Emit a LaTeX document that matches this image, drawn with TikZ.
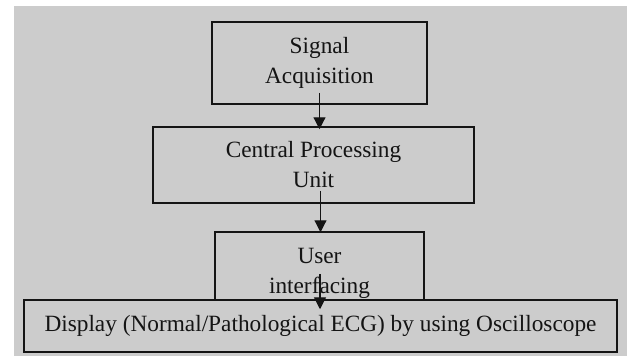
\documentclass[tikz,border=0pt]{standalone}
\usepackage{fontspec}
\setmainfont{Liberation Serif}
\usepackage{tikz}
\usetikzlibrary{calc,arrows.meta}
\definecolor{bggray}{RGB}{204,204,204}
\definecolor{ink}{RGB}{20,20,20}

\begin{document}
\begin{tikzpicture}[x=1pt,y=-1pt,
            block/.style={rectangle, draw=ink, line width=1.5pt, align=center,
            inner sep=0pt, text=ink, font=\fontsize{23.3}{30}\selectfont},
            >={Triangle[width=12pt,length=12pt]}, line width=1.2pt]

          \useasboundingbox (0,0) rectangle (627,356);
          \fill[bggray] (14,6) rectangle (627,356);

          \node[block,minimum width=215pt,minimum height=82pt] (sig) at (319.5,63) {Signal\\Acquisition};
          \node[block,minimum width=321pt,minimum height=76pt] (cpu) at (313.5,165) {Central Processing\\Unit};
          \node[block,minimum width=209pt,minimum height=68pt] (ui) at (319.5,266)
            {\rule{0pt}{30pt}User\\interfacing};
          \node[block,minimum width=593pt,minimum height=52pt] (disp) at (320.5,326) {Display (Normal/Pathological ECG) by using Oscilloscope};

          % arrows start inside the boxes
          \coordinate (sigout) at ($(sig.south)+(0,-12)$);
          \coordinate (cpuout) at ($(sig.south |- cpu.south)+(1,-13)$);
          \coordinate (uiout) at ($(ui.south)+(0.5,-27)$);

          \draw[->,ink] (sigout) -- ($(sig.south |- cpu.north)+(0,3)$);
          \draw[->,ink] (cpuout) -- ($(cpuout |- ui.north)+(0,1)$);
          \draw[->,ink] (uiout) -- ($(uiout |- disp.north)+(0,10)$);
        \end{tikzpicture}
\end{document}
